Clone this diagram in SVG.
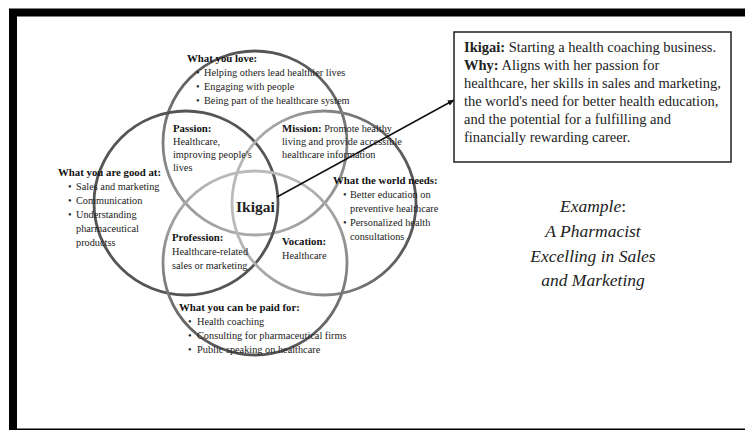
<svg xmlns="http://www.w3.org/2000/svg" width="745" height="430" viewBox="0 0 745 430">
  <defs>
    <marker id="arrowhead" viewBox="0 0 10 10" refX="9" refY="5" markerWidth="7" markerHeight="7" orient="auto" markerUnits="userSpaceOnUse">
      <path d="M0,1 L10,5 L0,9 z" fill="#111"/>
    </marker>
    <!-- ring shading: each circle fades from dark to light -->
    <linearGradient id="fadeDown" x1="0" y1="0" x2="0" y2="1">
      <stop offset="0" stop-color="#555"/>
      <stop offset="1" stop-color="#a8a8a8"/>
    </linearGradient>
    <linearGradient id="fadeUp" x1="0" y1="1" x2="0" y2="0">
      <stop offset="0" stop-color="#555"/>
      <stop offset="1" stop-color="#bbb"/>
    </linearGradient>
    <linearGradient id="fadeLeft" x1="1" y1="0" x2="0" y2="0">
      <stop offset="0" stop-color="#555"/>
      <stop offset="1" stop-color="#bbb"/>
    </linearGradient>
    <style>
      text { font-family: "Liberation Serif", "Times New Roman", serif; fill: #222; }
      .head { font-size: 10.8px; font-weight: bold; fill: #111; }
      .body { font-size: 10.3px; }
      .ring { fill: none; stroke-width: 2.8; }
      .box { font-size: 14.5px; }
      .ex { font-size: 17.5px; font-style: italic; text-anchor: middle; }
    </style>
  </defs>

  <rect width="745" height="430" fill="#fff"/>
  <!-- outer frame -->
  <rect x="13" y="12.5" width="760" height="420" fill="none" stroke="#000" stroke-width="8"/>

  <!-- the four overlapping circles -->
  <g id="circles">
    <circle id="love" class="ring" stroke="url(#fadeDown)" cx="255" cy="143" r="92"/>
    <circle id="good-at" class="ring" stroke="#555" cx="186" cy="203" r="92"/>
    <circle id="world-needs" class="ring" stroke="url(#fadeLeft)" cx="324" cy="203" r="92"/>
    <circle id="paid-for" class="ring" stroke="url(#fadeUp)" cx="255" cy="263" r="92"/>
  </g>

  <g id="connectors">
    <line x1="277" y1="197" x2="454" y2="100" stroke="#111" stroke-width="1.5" marker-end="url(#arrowhead)"/>
  </g>

  <g id="node-love">
    <text class="head" x="187" y="62">What you love:</text>
    <text class="body" x="196" y="76">•<tspan x="204">Helping others lead healthier lives</tspan></text>
    <text class="body" x="196" y="90">•<tspan x="204">Engaging with people</tspan></text>
    <text class="body" x="196" y="104">•<tspan x="204">Being part of the healthcare system</tspan></text>
  </g>

  <g id="node-passion">
    <text class="head" x="173" y="132">Passion:</text>
    <text class="body" x="173" y="145">Healthcare,</text>
    <text class="body" x="173" y="158">improving people's</text>
    <text class="body" x="173" y="171">lives</text>
  </g>

  <g id="node-mission">
    <text class="body" x="282" y="132"><tspan class="head">Mission:</tspan> Promote healthy</text>
    <text class="body" x="282" y="145">living and provide accessible</text>
    <text class="body" x="282" y="158">healthcare information</text>
  </g>

  <g id="node-good-at">
    <text class="head" x="58" y="176">What you are good at:</text>
    <text class="body" x="68" y="190">•<tspan x="76">Sales and marketing</tspan></text>
    <text class="body" x="68" y="204">•<tspan x="76">Communication</tspan></text>
    <text class="body" x="68" y="218">•<tspan x="76">Understanding</tspan></text>
    <text class="body" x="76" y="232">pharmaceutical</text>
    <text class="body" x="76" y="246">productss</text>
  </g>

  <g id="node-ikigai">
    <text x="236" y="212" font-size="15.5" font-weight="bold" fill="#111">Ikigai</text>
  </g>

  <g id="node-world-needs">
    <text class="head" x="333" y="184">What the world needs:</text>
    <text class="body" x="343" y="198">•<tspan x="350">Better education on</tspan></text>
    <text class="body" x="350" y="212">preventive healthcare</text>
    <text class="body" x="343" y="226">•<tspan x="350">Personalized health</tspan></text>
    <text class="body" x="350" y="240">consultations</text>
  </g>

  <g id="node-profession">
    <text class="head" x="172" y="241">Profession:</text>
    <text class="body" x="172" y="255">Healthcare-related</text>
    <text class="body" x="172" y="269">sales or marketing</text>
  </g>

  <g id="node-vocation">
    <text class="head" x="282" y="245">Vocation:</text>
    <text class="body" x="282" y="259">Healthcare</text>
  </g>

  <g id="node-paid-for">
    <text class="head" x="179" y="311">What you can be paid for:</text>
    <text class="body" x="188" y="325">•<tspan x="197">Health coaching</tspan></text>
    <text class="body" x="188" y="339">•<tspan x="197">Consulting for pharmaceutical firms</tspan></text>
    <text class="body" x="188" y="353">•<tspan x="197">Public speaking on healthcare</tspan></text>
  </g>

  <g id="node-summary">
    <rect x="454" y="32" width="277" height="130" fill="#fff" stroke="#222" stroke-width="1.5"/>
    <text class="box" x="464" y="52"><tspan font-weight="bold">Ikigai:</tspan> Starting a health coaching business.</text>
    <text class="box" x="464" y="70"><tspan font-weight="bold">Why:</tspan> Aligns with her passion for</text>
    <text class="box" x="464" y="88">healthcare, her skills in sales and marketing,</text>
    <text class="box" x="464" y="106">the world's need for better health education,</text>
    <text class="box" x="464" y="124">and the potential for a fulfilling and</text>
    <text class="box" x="464" y="142">financially rewarding career.</text>
  </g>

  <g id="node-example">
    <text class="ex" x="593" y="212">Example<tspan font-style="normal">:</tspan></text>
    <text class="ex" x="593" y="237">A Pharmacist</text>
    <text class="ex" x="593" y="262">Excelling in Sales</text>
    <text class="ex" x="593" y="286">and Marketing</text>
  </g>
</svg>
